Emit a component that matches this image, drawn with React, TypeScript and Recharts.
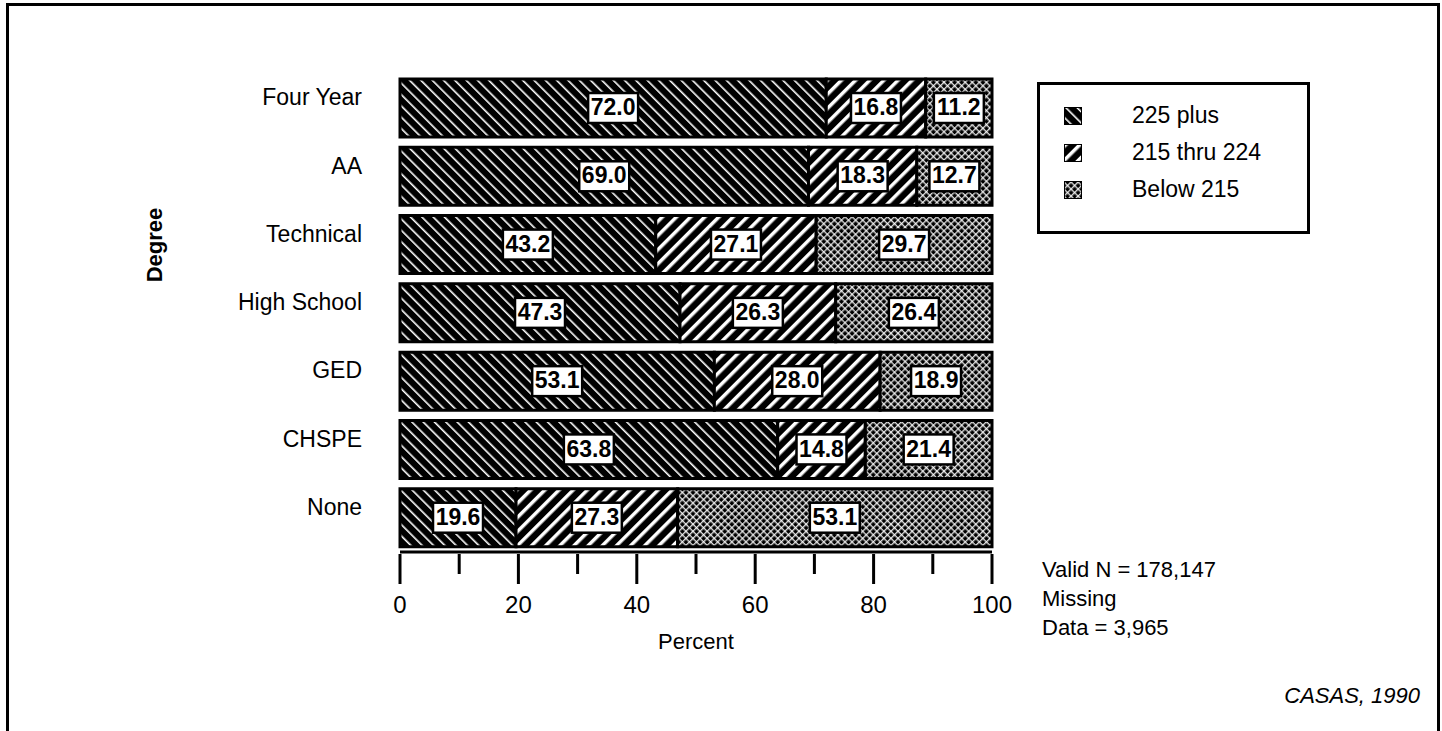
import React from "react";
import { BarChart, Bar, XAxis, YAxis, Legend, LabelList } from "recharts";

const degrees = ["Four Year", "AA", "Technical", "High School", "GED", "CHSPE", "None"];
const plus225 = [72.0, 69.0, 43.2, 47.3, 53.1, 63.8, 19.6];
const mid215to224 = [16.8, 18.3, 27.1, 26.3, 28.0, 14.8, 27.3];
const below215 = [11.2, 12.7, 29.7, 26.4, 18.9, 21.4, 53.1];
const percentTicks = [0, 10, 20, 30, 40, 50, 60, 70, 80, 90, 100];
const seriesNames = ["225 plus", "215 thru 224", "Below 215"];
const noteLines = ["Valid N = 178,147", "Missing", "Data = 3,965"];

const data = degrees.map((d, i) => ({
  degree: d,
  hi: plus225[i],
  mid: mid215to224[i],
  low: below215[i],
}));

const FONT = "'Liberation Sans', Arial, Helvetica, sans-serif";
const fills = ["url(#hatchBack)", "url(#hatchFwd)", "url(#crossDots)"];

function ValueBox(props: any) {
  const { x, y, width, height, value } = props;
  const w = 50;
  const h = 30;
  const cx = x + width / 2;
  const cy = y + height / 2;
  return (
    <g>
      <rect x={cx - w / 2} y={cy - h / 2} width={w} height={h} fill="#fff" stroke="#000" strokeWidth={2.5} />
      <text
        x={cx}
        y={cy + 1}
        textAnchor="middle"
        dominantBaseline="middle"
        fontFamily={FONT}
        fontWeight="bold"
        fontSize={23}
        fill="#000"
      >
        {Number(value).toFixed(1)}
      </text>
    </g>
  );
}

function DegreeTick(props: any) {
  const { x, y, payload } = props;
  return (
    <text x={x - 30} y={y - 9} textAnchor="end" dominantBaseline="middle" fontFamily={FONT} fontSize={23} fill="#000">
      {payload.value}
    </text>
  );
}

function PercentTick(props: any) {
  const { x, y, payload } = props;
  const major = payload.value % 20 === 0;
  return (
    <g>
      <line x1={x} y1={y} x2={x} y2={y + (major ? 30 : 20)} stroke="#000" strokeWidth={3} />
      {major && (
        <text x={x} y={y + 53} textAnchor="middle" dominantBaseline="middle" fontFamily={FONT} fontSize={24} fill="#000">
          {payload.value}
        </text>
      )}
    </g>
  );
}

function LegendBox() {
  return (
    <div
      style={{
        width: 267,
        height: 146,
        border: "3px solid #000",
        background: "#fff",
        fontFamily: FONT,
        fontSize: 23,
        boxSizing: "content-box",
      }}
    >
      {seriesNames.map((name, i) => (
        <div key={name} style={{ display: "flex", alignItems: "center", height: 37, marginTop: i === 0 ? 12 : 0 }}>
          <svg width={18} height={18} style={{ marginLeft: 24 }}>
            <rect x={0} y={0} width={18} height={18} fill={fills[i]} stroke="#000" strokeWidth={2} />
          </svg>
          <span style={{ marginLeft: 50 }}>{name}</span>
        </div>
      ))}
    </div>
  );
}

export default function App() {
  return (
    <div style={{ position: "absolute", left: 0, top: 0, width: 1442, height: 731, background: "#fff", overflow: "hidden" }}>
      <div
        style={{
          position: "absolute",
          left: 6,
          top: 3,
          width: 1428,
          height: 740,
          border: "3px solid #000",
        }}
      />
      <BarChart
        width={1442}
        height={731}
        data={data}
        layout="vertical"
        margin={{ top: 74, right: 450, bottom: 119, left: 150 }}
        barSize={58}
      >
        <defs>
          <pattern id="hatchBack" width={8} height={8} patternUnits="userSpaceOnUse" patternTransform="rotate(-45)">
            <rect width={8} height={8} fill="#000" />
            <rect x={0} y={0} width={1.6} height={8} fill="#fff" />
          </pattern>
          <pattern id="hatchFwd" width={10} height={10} patternUnits="userSpaceOnUse" patternTransform="rotate(45)">
            <rect width={10} height={10} fill="#000" />
            <rect x={0} y={0} width={3.5} height={10} fill="#fff" />
          </pattern>
          <pattern id="crossDots" width={5} height={5} patternUnits="userSpaceOnUse" patternTransform="rotate(45)">
            <rect width={5} height={5} fill="#000" />
            <rect x={0} y={0} width={1.4} height={5} fill="#fff" opacity={0.85} />
            <rect x={0} y={0} width={5} height={1.4} fill="#fff" opacity={0.85} />
          </pattern>
        </defs>
        <XAxis
          type="number"
          domain={[0, 100]}
          ticks={percentTicks}
          interval={0}
          height={60}
          tickSize={0}
          tickLine={false}
          axisLine={{ stroke: "#000", strokeWidth: 3 }}
          tick={<PercentTick />}
        />
        <YAxis
          type="category"
          dataKey="degree"
          width={250}
          axisLine={false}
          tickLine={false}
          tick={<DegreeTick />}
        />
        <Legend
          layout="horizontal"
          verticalAlign="middle"
          align="center"
          content={() => <LegendBox />}
          wrapperStyle={{ left: 1037, top: 82, width: 273 }}
        />
        <Bar dataKey="hi" name={seriesNames[0]} stackId="s" fill={fills[0]} stroke="#000" strokeWidth={3} isAnimationActive={false}>
          <LabelList dataKey="hi" content={<ValueBox />} />
        </Bar>
        <Bar dataKey="mid" name={seriesNames[1]} stackId="s" fill={fills[1]} stroke="#000" strokeWidth={3} isAnimationActive={false}>
          <LabelList dataKey="mid" content={<ValueBox />} />
        </Bar>
        <Bar dataKey="low" name={seriesNames[2]} stackId="s" fill={fills[2]} stroke="#000" strokeWidth={3} isAnimationActive={false}>
          <LabelList dataKey="low" content={<ValueBox />} />
        </Bar>
      </BarChart>
      <div
        style={{
          position: "absolute",
          left: 155,
          top: 245,
          transform: "translate(-50%, -50%) rotate(-90deg)",
          fontFamily: FONT,
          fontWeight: "bold",
          fontSize: 22,
        }}
      >
        Degree
      </div>
      <div
        style={{
          position: "absolute",
          left: 696,
          top: 642,
          transform: "translate(-50%, -50%)",
          fontFamily: FONT,
          fontSize: 22,
        }}
      >
        Percent
      </div>
      <div style={{ position: "absolute", left: 1042, top: 555, fontFamily: FONT, fontSize: 22, lineHeight: "29px" }}>
        {noteLines.map((l) => (
          <div key={l}>{l}</div>
        ))}
      </div>
      <div
        style={{
          position: "absolute",
          right: 22,
          top: 683,
          fontFamily: FONT,
          fontStyle: "italic",
          fontSize: 22,
        }}
      >
        CASAS, 1990
      </div>
    </div>
  );
}
